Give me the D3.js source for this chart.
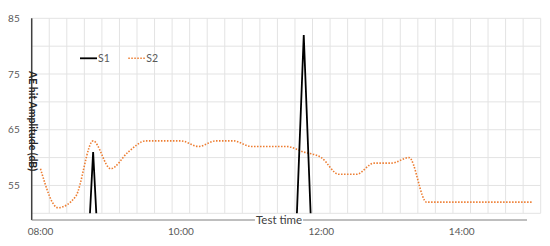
<!DOCTYPE html>
<html lang="en">
<head>
<meta charset="utf-8">
<title>AE hit amplitude</title>
<script src="https://cdn.jsdelivr.net/npm/d3@7"></script>
<style>
  body { margin: 0; background: #fff; }
  svg text { font-family: Lato, "Liberation Sans", sans-serif; }
  .grid line { stroke: #e3e3e3; stroke-width: 1; }
  .tick text { fill: #595959; font-size: 10px; }
</style>
</head>
<body>
<script>
// categories, one every 15 minutes
var categories = ["08:00","08:15","08:30","08:45","09:00","09:15","09:30","09:45",
  "10:00","10:15","10:30","10:45","11:00","11:15","11:30","11:45",
  "12:00","12:15","12:30","12:45","13:00","13:15","13:30","13:45",
  "14:00","14:15","14:30","14:45","15:00"];
var timeTicks = ["08:00","10:00","12:00","14:00"];
var ampTicks = [55, 65, 75, 85];

var s1 = [0,0,0,61,0,0,0,0,0,0,0,0,0,0,0,82,0,0,0,0,0,0,0,0,0,0,0,0,0];
var s2 = [58,51,53,63,58,61,63,63,63,62,63,63,62,62,62,61,60,57,57,59,59,60,52,52,52,52,52,52,52];

var w = 550, h = 246;
var plotL = 31.7, plotR = 540.7, plotT = 18.3, plotB = 213.3;
var axisY = 220, axisEnd = 527;

var svg = d3.select("body").append("svg")
  .attr("width", w)
  .attr("height", h);

var x = d3.scaleBand().domain(categories).range([plotL, plotR]);
var y = d3.scaleLinear().domain([50, 85]).range([plotB, plotT]);

// gridlines
var grid = svg.append("g").attr("class", "grid");
grid.selectAll(".v")
  .data(categories.map(function(c) { return x(c); }).concat([plotR]))
  .enter().append("line")
  .attr("x1", function(d) { return d; })
  .attr("x2", function(d) { return d; })
  .attr("y1", plotT).attr("y2", plotB);
grid.selectAll(".hz")
  .data(d3.range(50, 86, 5))
  .enter().append("line")
  .attr("x1", plotL).attr("x2", plotR)
  .attr("y1", function(d) { return y(d); })
  .attr("y2", function(d) { return y(d); });

svg.append("clipPath").attr("id", "plot")
  .append("rect")
  .attr("x", plotL).attr("y", plotT)
  .attr("width", plotR - plotL).attr("height", plotB - plotT);

var cx = function(d, i) { return x(categories[i]) + x.bandwidth() / 2; };

var line2 = d3.line().x(cx).y(function(d) { return y(d); }).curve(d3.curveMonotoneX);
var line1 = d3.line().x(cx).y(function(d) { return y(d); });

svg.append("path")
  .datum(s2)
  .attr("clip-path", "url(#plot)")
  .attr("d", line2)
  .attr("fill", "none")
  .attr("stroke", "#ED7D31")
  .attr("stroke-width", 1.6)
  .attr("stroke-dasharray", "1.5,1.5");

svg.append("path")
  .datum(s1)
  .attr("clip-path", "url(#plot)")
  .attr("d", line1)
  .attr("fill", "none")
  .attr("stroke", "#000")
  .attr("stroke-width", 1.8);

// y axis
var yAxis = svg.append("g")
  .attr("transform", "translate(" + (plotL - 12) + ",0)")
  .call(d3.axisLeft(y).tickValues(ampTicks).tickSize(0).tickPadding(0));
yAxis.select(".domain").remove();

svg.append("line")
  .attr("x1", plotL).attr("x2", plotL)
  .attr("y1", plotT).attr("y2", axisY)
  .attr("stroke", "#404040").attr("stroke-width", 1.5);

// x axis
var xAxis = svg.append("g")
  .attr("transform", "translate(0," + (axisY + 8) + ")")
  .call(d3.axisBottom(x).tickValues(timeTicks).tickSize(0).tickPadding(0));
xAxis.select(".domain").remove();

svg.append("line")
  .attr("x1", plotL).attr("x2", axisEnd)
  .attr("y1", axisY).attr("y2", axisY)
  .attr("stroke", "#7f7f7f").attr("stroke-width", 1);

// axis titles
var titleG = svg.append("g");
var bg = titleG.append("rect").attr("fill", "#fff");
var tt = titleG.append("text")
  .attr("x", 279).attr("y", axisY + 4)
  .attr("text-anchor", "middle")
  .attr("font-size", "11.5px")
  .attr("fill", "#404040")
  .text("Test time");
var bb = tt.node().getBBox();
bg.attr("x", bb.x - 1).attr("y", axisY - 2)
  .attr("width", bb.width + 2).attr("height", 4);

svg.append("text")
  .attr("transform", "translate(29,121) rotate(90)")
  .attr("text-anchor", "middle")
  .attr("font-size", "10.5px")
  .attr("font-weight", "bold")
  .attr("fill", "#262626")
  .text("AE hit Amplitude (dB)");

// legend
var legend = [
  { name: "S1", x: 80, color: "#000", dash: null, width: 1.8 },
  { name: "S2", x: 128.3, color: "#ED7D31", dash: "1.5,1.5", width: 1.6 }
];
var lg = svg.selectAll(".legend").data(legend).enter().append("g")
  .attr("transform", function(d) { return "translate(" + d.x + ",58.3)"; });
lg.append("line")
  .attr("x1", 0).attr("x2", 17)
  .attr("stroke", function(d) { return d.color; })
  .attr("stroke-width", function(d) { return d.width; })
  .attr("stroke-dasharray", function(d) { return d.dash; });
lg.append("text")
  .attr("x", 18).attr("y", 3.5)
  .attr("font-size", "10.5px")
  .attr("fill", "#595959")
  .text(function(d) { return d.name; });
</script>
</body>
</html>
